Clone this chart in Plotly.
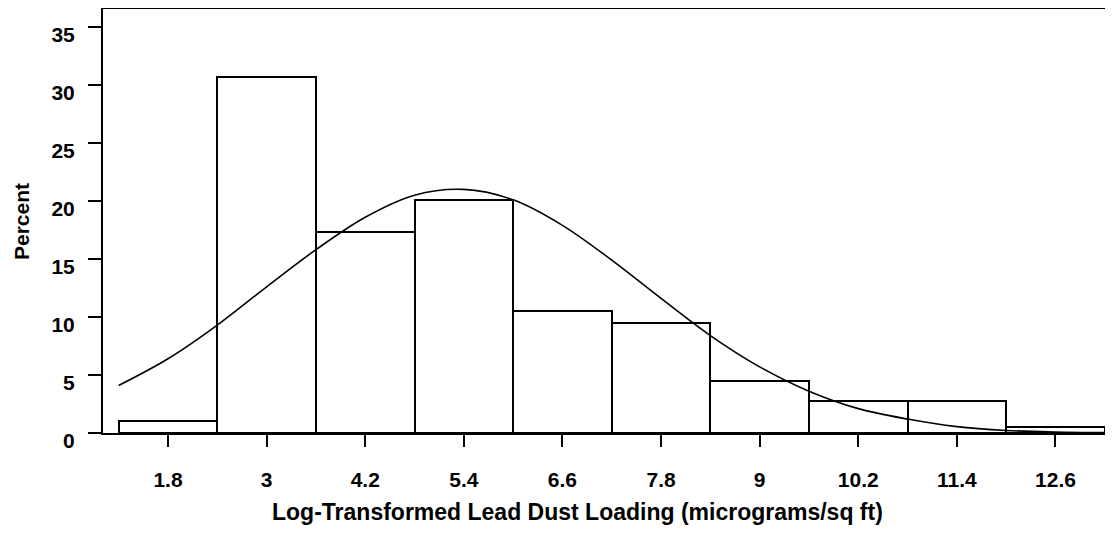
import plotly.graph_objects as go

# Histogram bins (midpoints) and percent heights
bin_mid = [1.8, 3.0, 4.2, 5.4, 6.6, 7.8, 9.0, 10.2, 11.4, 12.6]
percent = [1.0, 30.7, 17.3, 20.1, 10.5, 9.5, 4.5, 2.8, 2.8, 0.55]
bin_width = 1.2

# Fitted normal curve
curve_x = [1.2, 1.8, 2.4, 3.0, 3.6, 4.2, 4.8, 5.4, 6.0, 6.6, 7.2, 7.8,
           8.4, 9.0, 9.6, 10.2, 10.8, 11.4, 12.0, 12.6, 13.2]
curve_y = [4.1, 6.4, 9.3, 12.6, 15.8, 18.6, 20.5, 21.0, 20.1, 17.9, 14.9, 11.6,
           8.4, 5.7, 3.6, 2.1, 1.2, 0.55, 0.22, 0.08, 0.03]

x_ticks = [1.8, 3, 4.2, 5.4, 6.6, 7.8, 9, 10.2, 11.4, 12.6]
x_ticktext = ["1.8", "3", "4.2", "5.4", "6.6", "7.8", "9", "10.2", "11.4", "12.6"]
y_ticks = [0, 5, 10, 15, 20, 25, 30, 35]

FONT = "Liberation Sans, Arial, sans-serif"

fig = go.Figure()
fig.add_trace(go.Bar(
    x=bin_mid, y=percent, width=[bin_width] * len(bin_mid),
    marker=dict(color="white", line=dict(color="black", width=2)),
    showlegend=False, hoverinfo="x+y",
))
fig.add_trace(go.Scatter(
    x=curve_x, y=curve_y, mode="lines",
    line=dict(color="black", width=1.6, shape="spline", smoothing=1.0),
    showlegend=False,
))

# page has an 8px body margin; figure sized/margined to compensate
fig.update_layout(
    width=1105, height=544,
    margin=dict(l=95, r=0, t=1, b=119),
    plot_bgcolor="white", paper_bgcolor="white",
    bargap=0,
    font=dict(family=FONT, size=21, color="black"),
    xaxis=dict(
        range=[1.009, 13.30], tickvals=x_ticks, ticktext=x_ticktext,
        showline=True, linecolor="black", linewidth=2, mirror=True,
        ticks="outside", ticklen=12, tickwidth=2, tickcolor="black",
        showgrid=False, zeroline=False,
        tickfont=dict(family=FONT, size=21, color="black", weight="bold"),
        ticklabelstandoff=15,
    ),
    yaxis=dict(
        range=[0, 36.55], tickvals=y_ticks,
        showline=True, linecolor="black", linewidth=2, mirror=False,
        ticks="outside", ticklen=13, tickwidth=2, tickcolor="black",
        showgrid=False, zeroline=False,
        tickfont=dict(family=FONT, size=21, color="black", weight="bold"),
        ticklabelstandoff=9, ticklabelshift=8,
    ),
    annotations=[
        dict(text="<b>Log-Transformed Lead Dust Loading (micrograms/sq ft)</b>",
             xref="paper", yref="paper", x=0.47, y=-0.1863, xanchor="center",
             yanchor="middle", showarrow=False,
             font=dict(family=FONT, size=23, color="black")),
        dict(text="<b>Percent</b>", textangle=-90,
             xref="paper", yref="paper", x=-0.0812, y=0.5, xanchor="center",
             yanchor="middle", showarrow=False, borderpad=0,
             font=dict(family=FONT, size=21, color="black")),
    ],
)

fig.write_html("out.html")
